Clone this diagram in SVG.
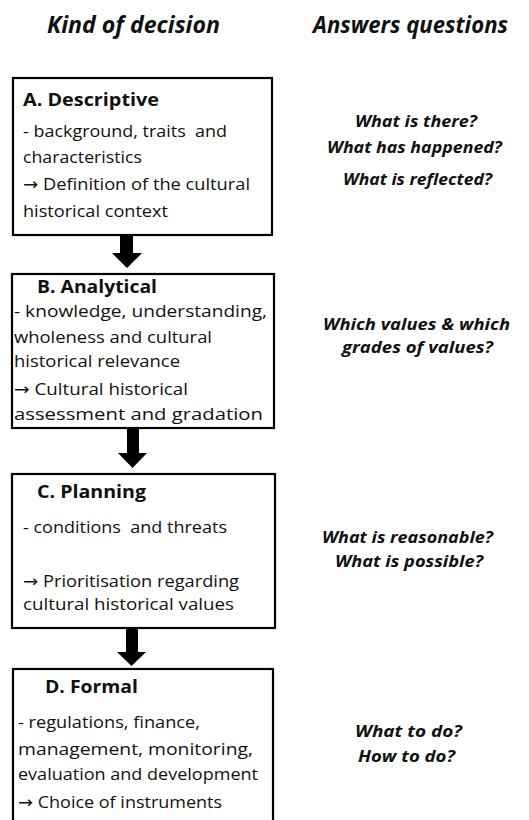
<svg xmlns="http://www.w3.org/2000/svg" width="529" height="820" viewBox="0 0 529 820">
<style>
.box{fill:#fff;stroke:#000;stroke-width:2.2}
.hdr{font-family:"Open Sans","Liberation Sans",sans-serif;font-weight:bold;font-style:italic;font-size:24px;fill:#111}
.ttl{font-family:"Open Sans","Liberation Sans",sans-serif;font-weight:bold;font-size:17px;fill:#111}
.txt{font-family:"Open Sans","Liberation Sans",sans-serif;font-size:16.5px;fill:#111;white-space:pre}
.ar{font-family:"DejaVu Sans",sans-serif}
.q{font-family:"Open Sans","Liberation Sans",sans-serif;font-weight:bold;font-style:italic;font-size:16px;fill:#111}
.arr{fill:#000}
</style>
<rect width="529" height="820" fill="#fff"/>
<g id="headers">
<text class="hdr" x="47" y="33" textLength="173" lengthAdjust="spacingAndGlyphs">Kind of decision</text>
<text class="hdr" x="313" y="33" textLength="195" lengthAdjust="spacingAndGlyphs">Answers questions</text>
</g>
<g id="connectors">
<polygon class="arr" points="120,235 133,235 133,253 142,253 127,268 112,253 120,253"/>
<polygon class="arr" points="127,428 139,428 139,453 147,453 132.5,468 118,453 127,453"/>
<polygon class="arr" points="126,628 138,628 138,652 146,652 131.5,666 117,652 126,652"/>
</g>
<g id="nodeA">
<rect class="box" x="13" y="78" width="259" height="157"/>
<text class="ttl" x="23" y="106" textLength="136" lengthAdjust="spacingAndGlyphs">A. Descriptive</text>
<text class="txt" x="23" y="137" textLength="204" lengthAdjust="spacingAndGlyphs">- background, traits  and</text>
<text class="txt" x="23" y="163" textLength="119" lengthAdjust="spacingAndGlyphs">characteristics</text>
<text class="txt" x="23" y="190" textLength="227" lengthAdjust="spacingAndGlyphs"><tspan class="ar">→</tspan> Definition of the cultural</text>
<text class="txt" x="23" y="217" textLength="145" lengthAdjust="spacingAndGlyphs">historical context</text>
</g>
<g id="nodeB">
<rect class="box" x="12" y="274" width="262" height="154"/>
<text class="ttl" x="37" y="293" textLength="120" lengthAdjust="spacingAndGlyphs">B. Analytical</text>
<text class="txt" x="14" y="317" textLength="253" lengthAdjust="spacingAndGlyphs">- knowledge, understanding,</text>
<text class="txt" x="14" y="343" textLength="198" lengthAdjust="spacingAndGlyphs">wholeness and cultural</text>
<text class="txt" x="14" y="367" textLength="166" lengthAdjust="spacingAndGlyphs">historical relevance</text>
<text class="txt" x="14" y="395" textLength="174" lengthAdjust="spacingAndGlyphs"><tspan class="ar">→</tspan> Cultural historical</text>
<text class="txt" x="14" y="420" textLength="249" lengthAdjust="spacingAndGlyphs">assessment and gradation</text>
</g>
<g id="nodeC">
<rect class="box" x="12" y="474" width="263" height="154"/>
<text class="ttl" x="37" y="498" textLength="109" lengthAdjust="spacingAndGlyphs">C. Planning</text>
<text class="txt" x="23" y="533" textLength="204" lengthAdjust="spacingAndGlyphs">- conditions  and threats</text>
<text class="txt" x="23" y="587" textLength="216" lengthAdjust="spacingAndGlyphs"><tspan class="ar">→</tspan> Prioritisation regarding</text>
<text class="txt" x="23" y="610" textLength="211" lengthAdjust="spacingAndGlyphs">cultural historical values</text>
</g>
<g id="nodeD">
<rect class="box" x="13" y="669" width="260" height="170"/>
<text class="ttl" x="45" y="693" textLength="93" lengthAdjust="spacingAndGlyphs">D. Formal</text>
<text class="txt" x="18" y="728" textLength="182" lengthAdjust="spacingAndGlyphs">- regulations, finance,</text>
<text class="txt" x="18" y="755" textLength="235" lengthAdjust="spacingAndGlyphs">management, monitoring,</text>
<text class="txt" x="18" y="780" textLength="240" lengthAdjust="spacingAndGlyphs">evaluation and development</text>
<text class="txt" x="18" y="808" textLength="204" lengthAdjust="spacingAndGlyphs"><tspan class="ar">→</tspan> Choice of instruments</text>
</g>
<g id="questionsA">
<text class="q" x="355" y="127" textLength="122" lengthAdjust="spacingAndGlyphs">What is there?</text>
<text class="q" x="327" y="153" textLength="175" lengthAdjust="spacingAndGlyphs">What has happened?</text>
<text class="q" x="343" y="185" textLength="149" lengthAdjust="spacingAndGlyphs">What is reflected?</text>
</g>
<g id="questionsB">
<text class="q" x="323" y="330" textLength="187" lengthAdjust="spacingAndGlyphs">Which values &amp; which</text>
<text class="q" x="342" y="353" textLength="151" lengthAdjust="spacingAndGlyphs">grades of values?</text>
</g>
<g id="questionsC">
<text class="q" x="322" y="543" textLength="171" lengthAdjust="spacingAndGlyphs">What is reasonable?</text>
<text class="q" x="335" y="567" textLength="148" lengthAdjust="spacingAndGlyphs">What is possible?</text>
</g>
<g id="questionsD">
<text class="q" x="355" y="737" textLength="107" lengthAdjust="spacingAndGlyphs">What to do?</text>
<text class="q" x="358" y="762" textLength="97" lengthAdjust="spacingAndGlyphs">How to do?</text>
</g>
</svg>
